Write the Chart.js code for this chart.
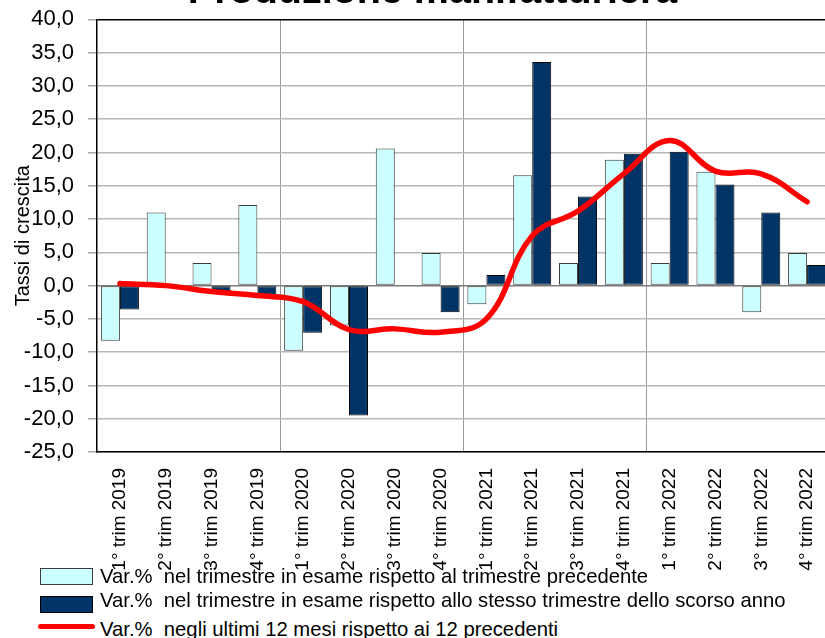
<!DOCTYPE html>
<html>
<head>
<meta charset="utf-8">
<script src="https://cdn.jsdelivr.net/npm/chart.js@4.4.0/dist/chart.umd.min.js"></script>
<style>
  html, body { margin: 0; padding: 0; background: #fff; }
  #wrap { position: absolute; left: 0; top: 0; width: 825px; height: 638px; overflow: hidden; background: #fff; }
  #box { position: absolute; left: 0; top: -32px; width: 865px; height: 604px; }
  #legend { position: absolute; left: 0; top: 0; font-family: 'Liberation Sans', Arial, sans-serif; font-size: 21px; color: #000; }
  .sw { position: absolute; left: 40px; width: 51px; height: 15px; }
  .ln { position: absolute; left: 38px; width: 57px; height: 5px; border-radius: 3px; }
  .tx { position: absolute; left: 100px; line-height: 21px; white-space: pre; transform: scaleX(0.965); transform-origin: 0 0; }
</style>
</head>
<body>
<div id="wrap">
  <div id="box"><canvas id="chart"></canvas></div>
  <div id="legend"></div>
</div>
<script>
// quarters on the category axis
const quarters = [
    '1° trim 2019', '2° trim 2019', '3° trim 2019', '4° trim 2019',
    '1° trim 2020', '2° trim 2020', '3° trim 2020', '4° trim 2020',
    '1° trim 2021', '2° trim 2021', '3° trim 2021', '4° trim 2021',
    '1° trim 2022', '2° trim 2022', '3° trim 2022', '4° trim 2022'
];

// Var.% vs previous quarter
const qoq = [-8.3, 11.0, 3.4, 12.1, -9.8, -6.0, 20.6, 4.9, -2.8, 16.6, 3.4, 18.9, 3.4, 17.1, -4.0, 4.9];
// Var.% vs same quarter of last year
const yoy = [-3.6, 0.0, -0.8, -1.6, -7.1, -19.5, 0.0, -4.0, 1.6, 33.6, 13.4, 19.8, 20.1, 15.2, 11.0, 3.1];
// Var.% last 12 months vs previous 12
const rolling12 = [0.3, 0.0, -0.9, -1.5, -2.4, -6.6, -6.5, -7.0, -5.0, 7.5, 11.2, 16.8, 21.8, 17.2, 16.8, 12.6];

const seriesNames = [
    'Var.%  nel trimestre in esame rispetto al trimestre precedente',
    'Var.%  nel trimestre in esame rispetto allo stesso trimestre dello scorso anno',
    'Var.%  negli ultimi 12 mesi rispetto ai 12 precedenti'
];

const FONT = "'Liberation Sans', Arial, sans-serif";
Chart.defaults.font.family = FONT;
Chart.defaults.color = '#000';

// the y axis box starts at the canvas edge, so the tick labels are not clipped
const stretchY = {
    id: 'stretchY',
    afterLayout(c) {
        const y = c.scales.y;
        y.left = 0;
        y.width = y.right;
    }
};

const chart = new Chart(document.getElementById('chart'), {
    type: 'bar',
    data: {
        labels: quarters,
        datasets: [{
            label: seriesNames[0],
            data: qoq,
            backgroundColor: '#ccffff',
            borderColor: '#3a3a3a',
            borderWidth: 1,
            borderSkipped: false,
            categoryPercentage: 0.83,
            barPercentage: 1.0,
            order: 1
        }, {
            label: seriesNames[1],
            data: yoy,
            backgroundColor: '#003366',
            borderColor: '#000',
            borderWidth: 1,
            borderSkipped: false,
            categoryPercentage: 0.83,
            barPercentage: 1.0,
            order: 1
        }, {
            type: 'line',
            label: seriesNames[2],
            data: rolling12,
            borderColor: '#ff0000',
            backgroundColor: '#ff0000',
            borderWidth: 5.5,
            pointRadius: 0,
            tension: 0.4,
            borderCapStyle: 'round',
            fill: false,
            order: 0
        }]
    },
    options: {
        responsive: true,
        maintainAspectRatio: false,
        animation: false,
        layout: { padding: { left: 35, right: 35, top: 0, bottom: 0 } },
        plugins: {
            legend: { display: false },
            tooltip: { enabled: false },
            title: {
                display: true,
                text: 'Produzione manifatturiera',
                color: '#000',
                font: { size: 39.5, weight: 'bold', family: FONT },
                padding: { top: 0, bottom: 4 }
            }
        },
        scales: {
            x: {
                grid: {
                    offset: true,
                    drawTicks: false,
                    lineWidth: 1,
                    color: (ctx) => (ctx.index > 0 && ctx.index % 4 === 0) ? '#9a9a9a' : 'rgba(0,0,0,0)'
                },
                border: { display: true, color: '#000', width: 1.5 },
                ticks: {
                    autoSkip: false,
                    maxRotation: 90,
                    minRotation: 90,
                    padding: 16,
                    font: { size: 19 },
                    color: '#000'
                },
                afterFit: (scale) => { scale.height = 120; }
            },
            y: {
                min: -25,
                max: 40,
                ticks: {
                    stepSize: 5,
                    padding: 14,
                    font: { size: 22 },
                    color: '#000',
                    callback: (v) => v.toFixed(1).replace('.', ',')
                },
                grid: {
                    tickLength: 9,
                    lineWidth: 1.5,
                    color: (ctx) => {
                        const v = ctx.tick && ctx.tick.value;
                        if (v === 40) return '#000';
                        if (v === 0) return '#7a7a7a';
                        return '#b8b8b8';
                    },
                    tickColor: '#a8a8a8'
                },
                border: { display: true, color: '#000', width: 1.5 },
                title: {
                    display: true,
                    text: 'Tassi di crescita',
                    color: '#000',
                    font: { size: 20 },
                    padding: { top: 11, bottom: 0 }
                },
                afterFit: (scale) => { scale.width = 62; }
            }
        }
    },
    plugins: [stretchY]
});

// legend rows built from the datasets
const legend = document.getElementById('legend');
const markTops = [568, 596, 624];
const textTops = [565, 589, 618];
chart.data.datasets.forEach((ds, i) => {
    const mark = document.createElement('div');
    mark.style.top = markTops[i] + 'px';
    if (ds.type === 'line') {
        mark.className = 'ln';
        mark.style.background = ds.borderColor;
    } else {
        mark.className = 'sw';
        mark.style.background = ds.backgroundColor;
        mark.style.border = '1px solid ' + ds.borderColor;
    }
    const txt = document.createElement('div');
    txt.className = 'tx';
    txt.style.top = textTops[i] + 'px';
    txt.textContent = ds.label;
    legend.appendChild(mark);
    legend.appendChild(txt);
});
</script>
</body>
</html>
